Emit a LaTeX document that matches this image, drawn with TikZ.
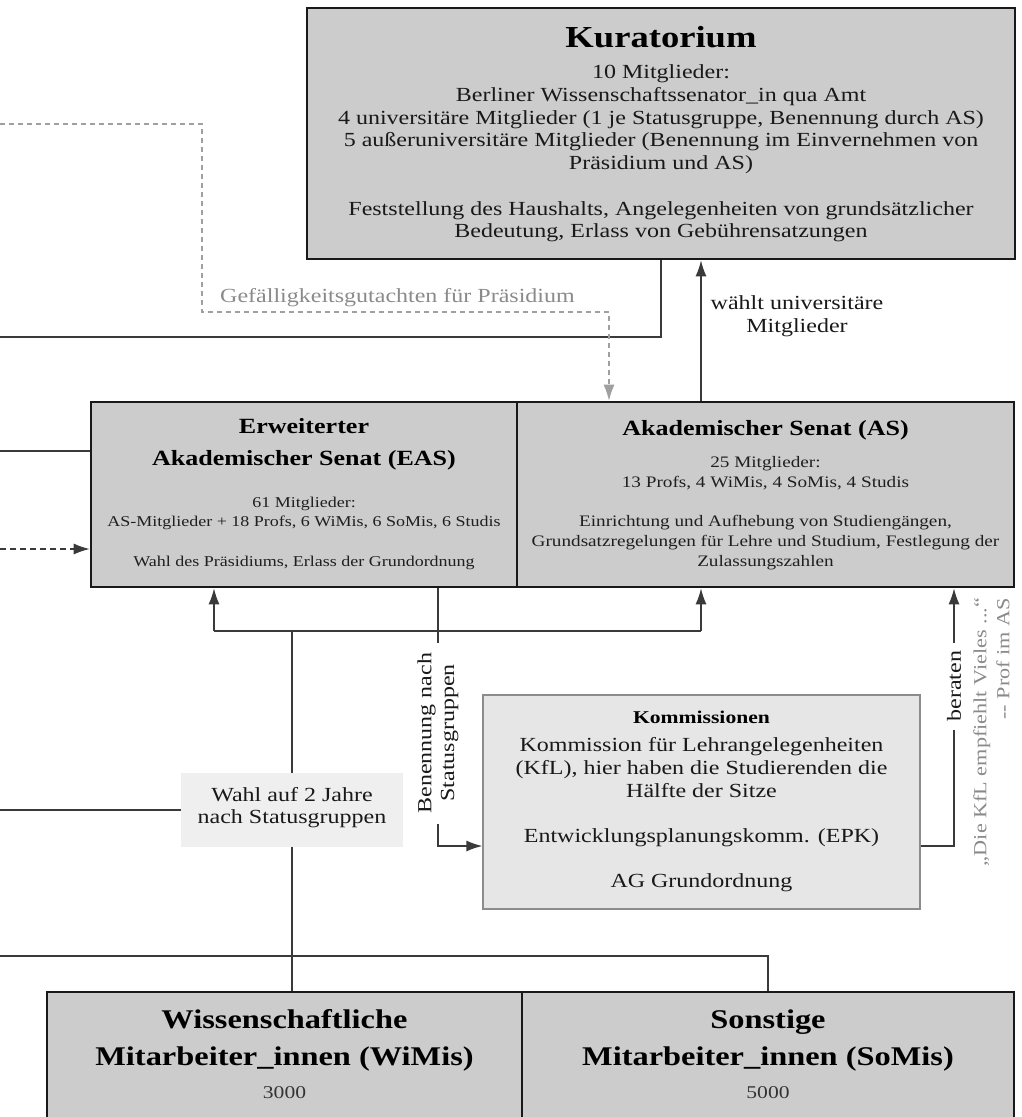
\documentclass[tikz,border=0pt]{standalone}
\usepackage{fontspec}
\setmainfont{Liberation Serif}[FakeStretch=1.2]
\usetikzlibrary{arrows.meta}
\definecolor{boxgray}{HTML}{CCCCCC}
\definecolor{kgray}{HTML}{E6E6E6}
\definecolor{wgray}{HTML}{EFEFEF}
\definecolor{lgray}{HTML}{3A3A3A}
\definecolor{tgray}{HTML}{8A8A8A}
\definecolor{dgray}{HTML}{A0A0A0}
\begin{document}
\begin{tikzpicture}[x=1pt,y=-1pt,
  bigbox/.style={draw=black!90,line width=2.6pt,fill=boxgray,inner sep=0pt},
  kbox/.style={draw=black!45,line width=1.2pt,fill=kgray,inner sep=0pt},
  wbox/.style={fill=wgray,inner sep=0pt},
  conn/.style={draw=lgray,line width=1.5pt},
  arr/.style={conn,-{Latex[length=16pt,width=11pt]}},
  gdash/.style={draw=dgray,line width=1.3pt,dash pattern=on 5pt off 4pt,-{Latex[length=16pt,width=11pt]}},
  bdash/.style={draw=lgray,line width=1.3pt,dash pattern=on 6pt off 4pt,-{Latex[length=16pt,width=11pt]}},
  ttl/.style={align=center,text=black,font=\bfseries\fontsize{21.7}{32}\selectfont,inner sep=0pt},
  bigttl/.style={align=center,text=black,font=\bfseries\fontsize{30.5}{34}\selectfont,inner sep=0pt},
  wttl/.style={align=center,text=black,font=\bfseries\fontsize{27}{37}\selectfont,inner sep=0pt},
  body/.style={align=center,text=black!88,font=\fontsize{16}{19.7}\selectfont,inner sep=0pt},
  big/.style={align=center,text=black!90,font=\fontsize{20}{22.7}\selectfont,inner sep=0pt},
  num/.style={text=black!80,font=\fontsize{18}{20}\selectfont,inner sep=0pt},
  grey/.style={align=right,text=tgray,font=\fontsize{18.5}{23}\selectfont,inner sep=0pt}
]
\useasboundingbox (0,0) rectangle (1022,1117);
\clip (0,0) rectangle (1022,1117);

% ---------- boxes ----------
\node[bigbox,minimum width=708pt,minimum height=251pt] (kur) at (661,133.5) {};
\node[bigttl] (kurT) at (661,37) {Kuratorium};
\node[big] (kurB) at (661,153.5) {10 Mitglieder:\\Berliner Wissenschaftssenator\_in qua Amt\\4 universitäre Mitglieder (1 je Statusgruppe, Benennung durch AS)\\5 außeruniversitäre Mitglieder (Benennung im Einvernehmen von\\Präsidium und AS)\\[22.7pt]Feststellung des Haushalts, Angelegenheiten von grundsätzlicher\\Bedeutung, Erlass von Gebührensatzungen};

\node[bigbox,minimum width=426pt,minimum height=185pt] (eas) at (304,494.5) {};
\node[bigbox,minimum width=497pt,minimum height=185pt] (as) at (765.5,494.5) {};
\node[ttl] (easT) at (304,444) {Erweiterter\\Akademischer Senat (EAS)};
\node[body,font=\fontsize{15}{19.7}\selectfont] (easB) at (304,533) {61 Mitglieder:\\AS-Mitglieder + 18 Profs, 6 WiMis, 6 SoMis, 6 Studis\\[19.7pt]Wahl des Präsidiums, Erlass der Grundordnung};
\node[ttl] (asT) at (765.5,430) {Akademischer Senat (AS)};
\node[body] (asB) at (765.5,513) {25 Mitglieder:\\13 Profs, 4 WiMis, 4 SoMis, 4 Studis\\[19.7pt]Einrichtung und Aufhebung von Studiengängen,\\Grundsatzregelungen für Lehre und Studium, Festlegung der\\Zulassungszahlen};

\node[kbox,minimum width=437pt,minimum height=214pt] (komm) at (701.5,802) {};
\node[align=center,text=black,font=\bfseries\fontsize{18}{20}\selectfont,inner sep=0pt] (kommT) at (701.5,717) {Kommissionen};
\node[big] (kommB) at (701.5,815) {Kommission für Lehrangelegenheiten\\(KfL), hier haben die Studierenden die\\Hälfte der Sitze\\[22.7pt]Entwicklungsplanungskomm. (EPK)\\[22.7pt]AG Grundordnung};

\node[wbox,minimum width=222pt,minimum height=74pt] (wahl) at (292,810) {};
\node[big,font=\fontsize{20}{22}\selectfont] (wahlT) at (292,808) {Wahl auf 2 Jahre\\nach Statusgruppen};

\node[bigbox,minimum width=475pt,minimum height=140pt] (wimi) at (284.5,1062) {};
\node[bigbox,minimum width=492pt,minimum height=140pt] (somi) at (768,1062) {};
\node[wttl] (wimiT) at (284.5,1040.5) {Wissenschaftliche\\Mitarbeiter\_innen (WiMis)};
\node[num] (wimiN) at (284.5,1093) {3000};
\node[wttl] (somiT) at (768,1040.5) {Sonstige\\Mitarbeiter\_innen (SoMis)};
\node[num] (somiN) at (768,1093) {5000};

% ---------- helper coordinates ----------
\coordinate (lK) at (0,337);
\coordinate (xK) at (701,0);
\coordinate (dA) at (0,124);
\coordinate (dB) at (202,312);
\coordinate (xD) at (609,0);
\coordinate (lA) at (0,451);
\coordinate (lB) at (0,549);
\coordinate (jL) at (214,631);
\coordinate (jR) at (701,631);
\coordinate (jW) at (292,631);
\coordinate (lW) at (0,810);
\coordinate (kY) at (0,846);
\coordinate (lS) at (0,956);

% ---------- labels ----------
\node[big] (wlab) at (797,316) {wählt universitäre\\Mitglieder};
\node[big,text=tgray,anchor=west] (glab) at (220,298) {Gefälligkeitsgutachten für Präsidium};
\node[big,rotate=90,inner xsep=10pt,inner ysep=0pt] (ben) at (438,733) {Benennung nach\\Statusgruppen};
\node[big,rotate=90,inner xsep=8pt,inner ysep=0pt] (ber) at (954,686) {beraten};
\node[grey,rotate=90] (quo) at (991.5,732) {„Die KfL empfiehlt Vieles ...“\\-{}- Prof im AS};

% ---------- connectors ----------
\draw[conn] (kur.south) |- (lK);
\draw[arr] (as.north -| xK) -- (kur.south -| xK);
\draw[gdash] (dA) -| (dB) -| (as.north -| xD);
\draw[conn] (lA) -- (eas.west |- lA);
\draw[bdash] (lB) -- (eas.west |- lB);
\draw[conn] (jL) -- (jR);
\draw[arr] (jL) -- (eas.south -| jL);
\draw[arr] (jR) -- (as.south -| jR);
\draw[conn] (jW) -- (wahl.north);
\draw[conn] (wahl.south) -- (wimi.north -| wahl.south);
\draw[conn] (lW) -- (wahl.west);
\draw[conn] (eas.south -| ben.east) -- (ben.east);
\draw[arr] (ben.west) |- (komm.west |- kY);
\draw[conn] (komm.east |- kY) -| (ber.west);
\draw[arr] (ber.east) -- (as.south -| ber.east);
\draw[conn] (lS) -| (somi.north);
\end{tikzpicture}
\end{document}
